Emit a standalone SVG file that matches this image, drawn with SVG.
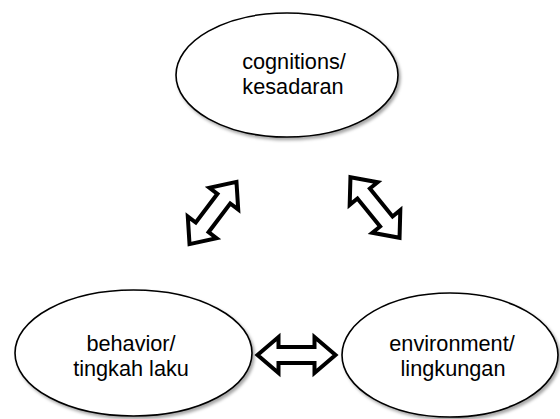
<svg xmlns="http://www.w3.org/2000/svg" width="560" height="419" viewBox="0 0 560 419">
  <style>
    .node ellipse { fill: #ffffff; stroke: #000000; stroke-width: 1.6; filter: url(#shadow); }
    .label { font-family: "Liberation Sans", Arial, sans-serif; font-size: 21.7px; fill: #000000; text-anchor: middle; }
    .arrow { fill: #ffffff; stroke: #000000; stroke-width: 4; stroke-linejoin: miter; }
  </style>
  <defs>
    <filter id="shadow" x="-10%" y="-10%" width="125%" height="130%">
      <feDropShadow dx="2" dy="2.5" stdDeviation="1.5" flood-color="#000000" flood-opacity="0.35"/>
    </filter>
    <path id="dblArrow" d="M -39 0 L -18 -18 L -18 -8 L 18 -8 L 18 -18 L 39 0 L 18 18 L 18 8 L -18 8 L -18 18 Z"/>
  </defs>
  <rect width="560" height="419" fill="#ffffff"/>

  <g id="connectors">
    <use href="#dblArrow" class="arrow" transform="translate(213 213) rotate(-53)"/>
    <use href="#dblArrow" class="arrow" transform="translate(375 207.5) rotate(51)"/>
    <use href="#dblArrow" class="arrow" transform="translate(296.5 355)"/>
  </g>

  <g id="node-cognitions" class="node">
    <ellipse cx="287" cy="75" rx="111" ry="62"/>
    <text class="label" x="294" y="68.5">cognitions/</text>
    <text class="label" x="293" y="93.5">kesadaran</text>
  </g>

  <g id="node-behavior" class="node">
    <ellipse cx="133.5" cy="353" rx="118.5" ry="63"/>
    <text class="label" x="131" y="350.5">behavior/</text>
    <text class="label" x="131" y="375.5">tingkah laku</text>
  </g>

  <g id="node-environment" class="node">
    <ellipse cx="450" cy="355" rx="108" ry="62"/>
    <text class="label" x="452" y="350.5">environment/</text>
    <text class="label" x="453" y="375.5">lingkungan</text>
  </g>
</svg>
